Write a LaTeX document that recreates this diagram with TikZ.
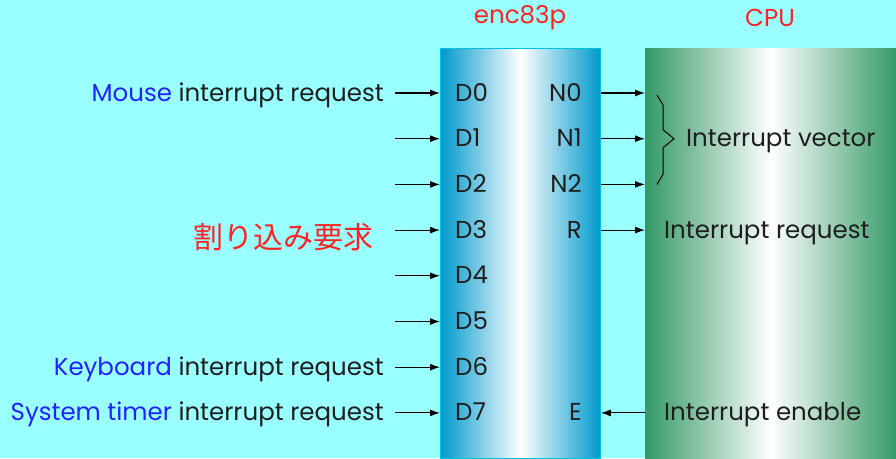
\documentclass[tikz,border=0pt]{standalone}
\usepackage{fontspec}
\setmainfont{Poppins}
\newfontfamily\jpfont{Noto Sans CJK JP}
\usetikzlibrary{calc,arrows.meta}

\definecolor{bgcyan}{RGB}{153,255,255}
\definecolor{encblue}{RGB}{0,153,204}
\definecolor{cpugreen}{RGB}{51,153,102}
\definecolor{lblblue}{RGB}{34,34,255}
\definecolor{lblred}{RGB}{255,34,34}
\definecolor{txtgray}{RGB}{30,30,30}

\tikzset{
  sig/.style={font=\fontsize{24.5}{28}\selectfont, text=txtgray, inner sep=0pt},
  title/.style={sig, text=lblred},
  sigarrow/.style={line width=1.1pt, -{Latex[length=10pt,width=7pt]}},
}

\begin{document}
\begin{tikzpicture}[x=1pt,y=-1pt]
    \useasboundingbox (0,0) rectangle (896,458);
    \fill[bgcyan] (0,0) rectangle (896,458);

    % the encoder and the cpu
    \node[anchor=north west, minimum width=160pt, minimum height=410pt,
          inner sep=0pt, left color=encblue, right color=encblue,
          middle color=white, draw=encblue!60!cyan, line width=0.8pt] (enc) at (440,48) {};
    \node[anchor=north west, minimum width=252pt, minimum height=410pt,
          inner sep=0pt, left color=cpugreen, right color=cpugreen,
          middle color=white] (cpu) at (645,48) {};
    \node[title] (encname) at (520,18) {enc83p};
    \node[title] (cpuname) at (770,18) {CPU};

    \coordinate (lblx) at (384,8);
    \coordinate (vecx) at (686,8);
    \coordinate (cpux) at (664,8);
    \foreach \i in {0,...,7}{% one row per input line
      \pgfmathsetmacro{\y}{93+45.7*\i}
      \coordinate (r\i) at (520,\y);
      \node[sig, anchor=base west] (d\i) at ($(455,\y)+(0,8)$) {D\i};
      \draw [sigarrow] ($(enc.west|-r\i)+(-45,0)$) -- (enc.west|-r\i);
    }
    \foreach \i in {0,1,2}{
      \node[sig, anchor=base east] (n\i) at ($(r\i)+(62,8)$) {N\i};
      \draw [sigarrow] (enc.east|-r\i) -- (cpu.west|-r\i);
    }
    \node[sig, anchor=base east] (req) at ($(r3)+(62,8)$) {R};
    \draw [sigarrow] (enc.east|-r3) -- (cpu.west|-r3);
    \node[sig, anchor=base east] (en) at ($(r7)+(62,8)$) {E};
    \draw [sigarrow] (cpu.west|-r7) -- (enc.east|-r7);

    % inputs
    \node[sig, anchor=base east] (mouse) at ($(lblx|-r0)+(0,8)$)
      {\textcolor{lblblue}{Mouse} interrupt request};
    \node[sig, anchor=base east] (kbd) at ($(lblx|-r6)+(0,8)$)
      {\textcolor{lblblue}{Keyboard} interrupt request};
    \node[sig, anchor=base east] (timer) at ($(lblx|-r7)+(0,8)$)
      {\textcolor{lblblue}{System timer} interrupt request};
    \node[font=\jpfont\fontsize{30}{33}\selectfont, text=lblred, inner sep=0pt]
      (irq) at (283,237) {割り込み要求};

    % cpu side
    \draw[line width=1pt] ($(cpu.west|-r0)+(12,2)$) -- ++(6,10) -- ($(cpu.west|-r1)+(18,-9)$)
      -- ($(cpu.west|-r1)+(29,0)$) -- ($(cpu.west|-r1)+(18,9)$)
      -- ($(cpu.west|-r2)+(18,-10)$) -- ($(cpu.west|-r2)+(12,0)$);
    \node[sig, anchor=base west] (vec) at ($(vecx|-r1)+(0,8)$) {Interrupt vector};
    \node[sig, anchor=base west] (cpureq) at ($(cpux|-r3)+(0,8)$) {Interrupt request};
    \node[sig, anchor=base west] (cpuen) at ($(cpux|-r7)+(0,8)$) {Interrupt enable};
\end{tikzpicture}
\end{document}
